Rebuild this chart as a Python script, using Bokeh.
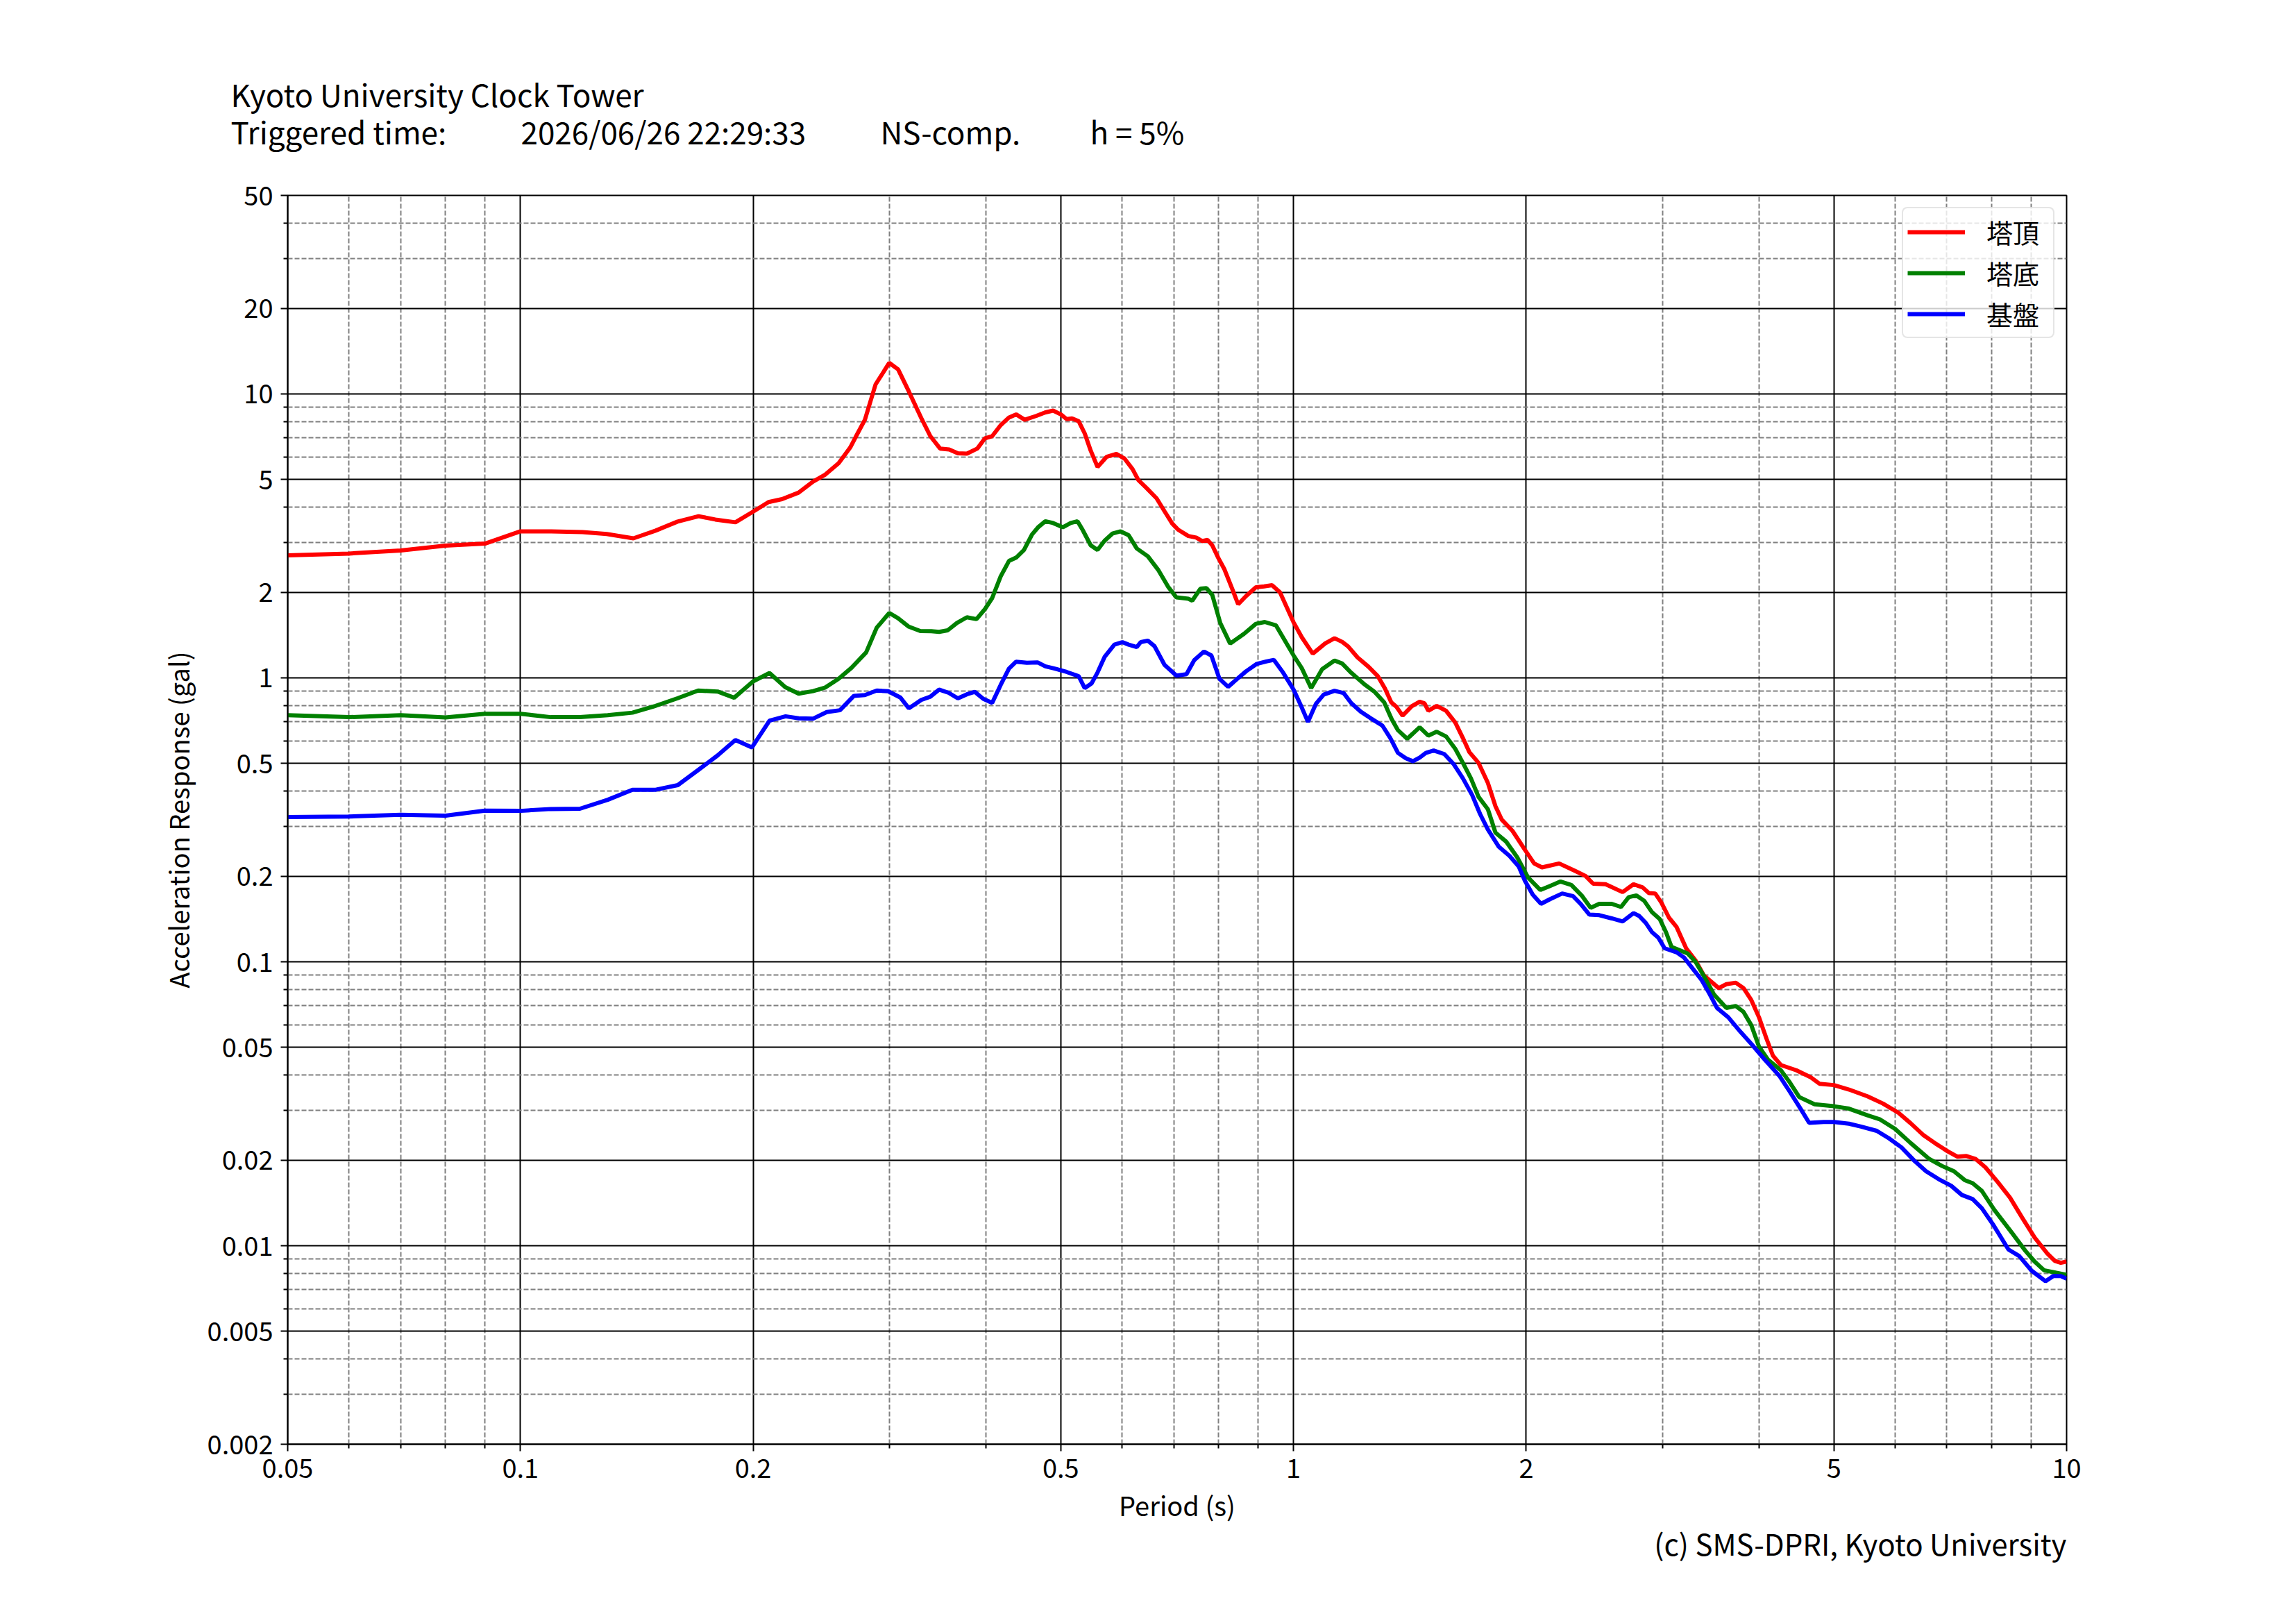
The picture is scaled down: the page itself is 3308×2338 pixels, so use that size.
from bokeh.plotting import figure
from bokeh.layouts import column
from bokeh.models import FixedTicker, CustomJSTickFormatter, Legend, LegendItem, Title
from bokeh.core.properties import value
from bokeh.embed import file_html
from bokeh.resources import INLINE

FONT = "Noto Sans CJK JP"

# ---- tick positions / labels ----
x_major = [0.05, 0.1, 0.2, 0.5, 1, 2, 5, 10]
x_minor = [0.06, 0.07, 0.08, 0.09, 0.3, 0.4, 0.6, 0.7, 0.8, 0.9, 3, 4, 6, 7, 8, 9]
y_major = [0.002, 0.005, 0.01, 0.02, 0.05, 0.1, 0.2, 0.5, 1, 2, 5, 10, 20, 50]
y_minor = [0.003, 0.004, 0.006, 0.007, 0.008, 0.009, 0.03, 0.04, 0.06, 0.07, 0.08, 0.09,
           0.3, 0.4, 0.6, 0.7, 0.8, 0.9, 3, 4, 6, 7, 8, 9, 30, 40]

series_labels = ["塔頂", "塔底", "基盤"]

# ---- 塔頂 (tower top) ----
period_top = [0.05, 0.06, 0.07, 0.08, 0.09, 0.10, 0.1096, 0.1203, 0.1293, 0.140, 0.1496, 0.1597,
              0.170, 0.1787, 0.1897, 0.200, 0.2094, 0.218, 0.229, 0.239, 0.248, 0.258, 0.267,
              0.2715, 0.279, 0.288, 0.300, 0.308, 0.318, 0.330, 0.339, 0.349, 0.3586, 0.368,
              0.378, 0.390, 0.399, 0.4076, 0.418, 0.4285, 0.4377, 0.449, 0.4645, 0.477, 0.4887,
              0.500, 0.5088, 0.517, 0.5274, 0.537, 0.5466, 0.5578, 0.573, 0.590, 0.6044, 0.6192,
              0.630, 0.6456, 0.665, 0.681, 0.697, 0.7097, 0.731, 0.7483, 0.762, 0.774, 0.785,
              0.799, 0.8135, 0.833, 0.848, 0.868, 0.894, 0.916, 0.938, 0.9605, 1.0, 1.025, 1.059,
              1.099, 1.13, 1.156, 1.177, 1.21, 1.25, 1.285, 1.313, 1.338, 1.359, 1.384, 1.422,
              1.456, 1.477, 1.494, 1.532, 1.575, 1.619, 1.656, 1.688, 1.735, 1.784, 1.825, 1.859,
              1.92, 1.992, 2.048, 2.096, 2.206, 2.31, 2.386, 2.441, 2.533, 2.665, 2.753, 2.829,
              2.882, 2.937, 2.99, 3.06, 3.13, 3.22, 3.31, 3.394, 3.548, 3.63, 3.733, 3.82, 3.91,
              4.0, 4.09, 4.17, 4.27, 4.47, 4.66, 4.79, 5.0, 5.23, 5.525, 5.785, 6.06, 6.285, 6.52,
              6.77, 7.02, 7.22, 7.42, 7.63, 7.85, 8.14, 8.45, 8.76, 9.09, 9.44, 9.655, 9.83, 10.0]
accel_top = [2.70, 2.74, 2.81, 2.92, 2.97, 3.28, 3.28, 3.26, 3.21, 3.10, 3.30, 3.55,
             3.71, 3.61, 3.53, 3.85, 4.16, 4.26, 4.49, 4.91, 5.20, 5.70, 6.47,
             7.06, 8.11, 10.8, 12.86, 12.2, 10.2, 8.22, 7.10, 6.42, 6.37, 6.18,
             6.16, 6.42, 6.98, 7.10, 7.76, 8.26, 8.47, 8.11, 8.36, 8.60, 8.73,
             8.47, 8.15, 8.20, 8.01, 7.25, 6.31, 5.53, 6.00, 6.15, 5.92, 5.43,
             4.97, 4.66, 4.29, 3.86, 3.49, 3.32, 3.16, 3.12, 3.03, 3.06, 2.93,
             2.65, 2.42, 2.06, 1.816, 1.94, 2.085, 2.10, 2.12, 2.00, 1.57, 1.39, 1.217,
             1.322, 1.379, 1.339, 1.289, 1.18, 1.095, 1.015, 0.918, 0.82, 0.79, 0.736, 0.794,
             0.824, 0.814, 0.766, 0.797, 0.766, 0.696, 0.614, 0.548, 0.502, 0.4266, 0.353, 0.317,
             0.289, 0.248, 0.222, 0.215, 0.222, 0.2094, 0.2006, 0.1884, 0.1876, 0.176, 0.1876, 0.1828,
             0.1747, 0.174, 0.162, 0.143, 0.1326, 0.1116, 0.1013, 0.0896, 0.0808, 0.0834, 0.0844, 0.0808, 0.0733,
             0.0638, 0.0537, 0.0467, 0.0433, 0.0415, 0.0393, 0.0372, 0.0368, 0.0355, 0.0336, 0.0317, 0.0294, 0.027, 0.0246,
             0.0229, 0.0215, 0.0206, 0.0207, 0.0202, 0.0189, 0.0168, 0.01476, 0.01256, 0.0107, 0.0094, 0.00885, 0.00871, 0.0088]

# ---- 塔底 (tower base) ----
period_base = [0.05, 0.06, 0.07, 0.08, 0.09, 0.10, 0.1095, 0.1194, 0.1297, 0.1396, 0.1496, 0.1598,
               0.1698, 0.1799, 0.189, 0.200, 0.210, 0.220, 0.229, 0.239, 0.248, 0.258, 0.268,
               0.280, 0.289, 0.300, 0.308, 0.318, 0.329, 0.340, 0.348, 0.357, 0.367, 0.378, 0.389,
               0.399, 0.4076, 0.418, 0.4285, 0.4377, 0.448, 0.459, 0.4678, 0.4775, 0.4887, 0.5029,
               0.515, 0.5256, 0.5336, 0.5466, 0.5578, 0.5696, 0.583, 0.5975, 0.612, 0.627, 0.648,
               0.669, 0.689, 0.7055, 0.731, 0.7397, 0.7577, 0.7716, 0.785, 0.804, 0.828, 0.863,
               0.894, 0.918, 0.9492, 1.0, 1.025, 1.054, 1.089, 1.13, 1.156, 1.188, 1.233, 1.274,
               1.31, 1.34, 1.365, 1.403, 1.456, 1.494, 1.532, 1.575, 1.619, 1.656, 1.696, 1.735,
               1.784, 1.825, 1.885, 1.947, 2.011, 2.086, 2.145, 2.215, 2.288, 2.363, 2.423, 2.486,
               2.58, 2.652, 2.714, 2.777, 2.842, 2.909, 2.977, 3.033, 3.083, 3.146, 3.234, 3.31,
               3.388, 3.5, 3.63, 3.733, 3.82, 3.91, 4.0, 4.11, 4.27, 4.385, 4.51, 4.72, 5.0, 5.23,
               5.525, 5.73, 6.0, 6.285, 6.645, 6.9, 7.15, 7.39, 7.56, 7.77, 8.06, 8.52, 8.845,
               9.09, 9.35, 9.7, 10.0]
accel_base = [0.739, 0.727, 0.739, 0.725, 0.747, 0.747, 0.727, 0.727, 0.739, 0.754, 0.797, 0.848,
              0.902, 0.895, 0.851, 0.972, 1.04, 0.928, 0.88, 0.898, 0.925, 0.993, 1.084,
              1.229, 1.503, 1.692, 1.621, 1.514, 1.462, 1.459, 1.452, 1.47, 1.561, 1.634, 1.61,
              1.748, 1.91, 2.276, 2.58, 2.65, 2.82, 3.20, 3.40, 3.56, 3.51, 3.39,
              3.51, 3.56, 3.32, 2.93, 2.82, 3.04, 3.22, 3.28, 3.18, 2.855, 2.68,
              2.39, 2.085, 1.92, 1.90, 1.87, 2.06, 2.07, 1.96, 1.56, 1.32, 1.43,
              1.55, 1.573, 1.53, 1.20, 1.081, 0.92, 1.073, 1.151, 1.123, 1.041, 0.953, 0.891,
              0.82, 0.714, 0.654, 0.61, 0.67, 0.626, 0.646, 0.622, 0.5624, 0.502, 0.443, 0.381,
              0.3445, 0.285, 0.2646, 0.2333, 0.198, 0.179, 0.1847, 0.1918, 0.1865, 0.1703, 0.1549, 0.160,
              0.160, 0.156, 0.169, 0.1713, 0.164, 0.1495, 0.1414, 0.127, 0.1128, 0.1104, 0.107, 0.1002,
              0.090, 0.0766, 0.0688, 0.0699, 0.0666, 0.0598, 0.0503, 0.0452, 0.0415, 0.0376, 0.0334, 0.0315, 0.031, 0.0304,
              0.0288, 0.0279, 0.0258, 0.023, 0.0202, 0.0191, 0.0183, 0.017, 0.0166, 0.0156, 0.0134, 0.0110, 0.0096,
              0.0088, 0.0082, 0.00803, 0.0079]

# ---- 基盤 (ground) ----
period_ground = [0.05, 0.06, 0.07, 0.08, 0.09, 0.10, 0.1095, 0.1194, 0.1297, 0.1396, 0.1496, 0.1598,
                 0.1698, 0.1799, 0.1897, 0.1993, 0.210, 0.2203, 0.229, 0.239, 0.249, 0.259, 0.270,
                 0.279, 0.289, 0.299, 0.310, 0.318, 0.330, 0.339, 0.348, 0.358, 0.368, 0.378, 0.387,
                 0.397, 0.4076, 0.418, 0.4285, 0.4377, 0.452, 0.4665, 0.4775, 0.492, 0.5088, 0.5274,
                 0.537, 0.548, 0.5578, 0.5696, 0.5865, 0.6006, 0.612, 0.627, 0.6344, 0.648, 0.661,
                 0.681, 0.7055, 0.727, 0.744, 0.766, 0.783, 0.802, 0.823, 0.845, 0.868, 0.8965,
                 0.922, 0.943, 0.97, 1.0, 1.02, 1.044, 1.069, 1.094, 1.13, 1.161, 1.188, 1.222,
                 1.256, 1.303, 1.334, 1.365, 1.397, 1.427, 1.456, 1.483, 1.518, 1.567, 1.612, 1.656,
                 1.703, 1.743, 1.784, 1.842, 1.903, 1.956, 1.992, 2.039, 2.09, 2.145, 2.226, 2.299,
                 2.352, 2.414, 2.486, 2.58, 2.665, 2.753, 2.80, 2.856, 2.91, 2.964, 3.02, 3.13, 3.2,
                 3.28, 3.373, 3.45, 3.53, 3.65, 3.785, 3.91, 4.07, 4.25, 4.385, 4.53, 4.645, 4.85,
                 5.0, 5.23, 5.42, 5.68, 5.89, 6.115, 6.345, 6.58, 6.83, 7.09, 7.32, 7.56, 7.77, 8.03,
                 8.41, 8.684, 9.01, 9.39, 9.61, 9.83, 10.0]
accel_ground = [0.3235, 0.325, 0.3296, 0.327, 0.3408, 0.340, 0.3453, 0.346, 0.372, 0.4036, 0.4036, 0.419,
                0.4736, 0.533, 0.6044, 0.569, 0.7065, 0.732, 0.72, 0.718, 0.758, 0.769, 0.864,
                0.87, 0.902, 0.897, 0.853, 0.781, 0.836, 0.858, 0.909, 0.886, 0.847, 0.875, 0.893,
                0.843, 0.816, 0.944, 1.078, 1.14, 1.13, 1.134, 1.098, 1.076, 1.049, 1.013,
                0.92, 0.956, 1.044, 1.184, 1.309, 1.336, 1.309, 1.283, 1.336, 1.352, 1.293,
                1.111, 1.018, 1.03, 1.154, 1.238, 1.199, 0.993, 0.93, 0.99, 1.054, 1.12,
                1.142, 1.157, 1.041, 0.91, 0.81, 0.70, 0.81, 0.873, 0.90, 0.884, 0.814, 0.76,
                0.723, 0.679, 0.614, 0.544, 0.521, 0.5085, 0.524, 0.544, 0.555, 0.539, 0.496, 0.443,
                0.386, 0.3317, 0.2925, 0.2547, 0.236, 0.2164, 0.193, 0.1725, 0.160, 0.166, 0.174, 0.1703,
                0.160, 0.1466, 0.146, 0.1422, 0.1387, 0.1484, 0.145, 0.137, 0.127, 0.1216, 0.1116, 0.108, 0.1035,
                0.095, 0.0862, 0.0774, 0.0688, 0.0638, 0.0567, 0.0514, 0.0452, 0.0397, 0.0349, 0.0303, 0.0271, 0.0273,
                0.0273, 0.0269, 0.0263, 0.0254, 0.0239, 0.0222, 0.020, 0.0183, 0.01717, 0.01627, 0.0151, 0.0146, 0.01355, 0.0119,
                0.0097, 0.0092, 0.00817, 0.0075, 0.00782, 0.00782, 0.00766]

title_line1 = "Kyoto University Clock Tower"
title_line2 = ["Triggered time:", "2026/06/26 22:29:33", "NS-comp.", "h = 5%"]
footer_text = "(c) SMS-DPRI, Kyoto University"

W = 3290
HEAD_H = 230
BL, BT, FW, FH, BB = 414, 51, 2563, 1799, 220
BR = W - BL - FW


def no_align(fig):
    try:
        fig.frame_align = False
    except Exception:
        pass


# ---------------- header (title texts) ----------------
head = figure(width=W, height=HEAD_H, x_range=(0, W), y_range=(0, HEAD_H),
              x_axis_type=None, y_axis_type=None, toolbar_location=None,
              output_backend="svg", min_border=0)
no_align(head)
head.outline_line_color = None
head.background_fill_color = "white"
head.border_fill_color = "white"
head.grid.visible = False
head.text(x=[332], y=[HEAD_H - 134], text=[title_line1],
          text_font=value(FONT), text_font_size=value("44px"), text_color="black",
          text_align="left", text_baseline="alphabetic")
head.text(x=[332, 750, 1268, 1570], y=[HEAD_H - 188] * 4, text=title_line2,
          text_font=value(FONT), text_font_size=value("44px"), text_color="black",
          text_align="left", text_baseline="alphabetic")

# ---------------- main plot ----------------
p = figure(width=W, height=BT + FH + BB, x_axis_type="log", y_axis_type="log",
           x_range=(0.05, 10), y_range=(0.002, 50),
           output_backend="svg", toolbar_location=None,
           min_border_left=BL, min_border_right=BR, min_border_top=BT, min_border_bottom=BB)
no_align(p)
p.background_fill_color = "white"
p.border_fill_color = "white"
p.outline_line_color = "black"
p.outline_line_width = 2
p.outline_line_alpha = 1

p.xaxis.ticker = FixedTicker(ticks=x_major, minor_ticks=x_minor)
p.yaxis.ticker = FixedTicker(ticks=y_major, minor_ticks=y_minor)
fmt = "return tick.toString();"
p.xaxis.formatter = CustomJSTickFormatter(code=fmt)
p.yaxis.formatter = CustomJSTickFormatter(code=fmt)

for ax in (p.xaxis, p.yaxis):
    ax.axis_line_color = "black"
    ax.axis_line_width = 2
    ax.major_tick_line_color = "black"
    ax.major_tick_line_width = 2
    ax.minor_tick_line_color = "black"
    ax.minor_tick_line_width = 2
    ax.major_tick_in = 0
    ax.major_tick_out = 10
    ax.minor_tick_in = 0
    ax.minor_tick_out = 6
    ax.major_label_text_font = FONT
    ax.major_label_text_font_size = "38px"
    ax.major_label_text_color = "black"
    ax.axis_label_text_font = FONT
    ax.axis_label_text_font_size = "38px"
    ax.axis_label_text_font_style = "normal"
    ax.axis_label_text_color = "black"

p.xaxis.axis_label = "Period (s)"
p.yaxis.axis_label = "Acceleration Response (gal)"
p.xaxis.major_label_standoff = 10
p.yaxis.major_label_standoff = 11
p.xaxis.axis_label_standoff = 8
p.yaxis.axis_label_standoff = 12

for g in (p.xgrid, p.ygrid):
    g.grid_line_color = "black"
    g.grid_line_width = 2
    g.grid_line_alpha = 1
    g.minor_grid_line_color = "#808080"
    g.minor_grid_line_width = 2
    g.minor_grid_line_dash = "7 3"

r_top = p.line(period_top, accel_top, line_color="#ff0000", line_width=6)
r_base = p.line(period_base, accel_base, line_color="#008000", line_width=6)
r_ground = p.line(period_ground, accel_ground, line_color="#0000ff", line_width=6)

legend = Legend(items=[LegendItem(label=series_labels[0], renderers=[r_top]),
                       LegendItem(label=series_labels[1], renderers=[r_base]),
                       LegendItem(label=series_labels[2], renderers=[r_ground])],
                location="top_right")
legend.label_text_font = FONT
legend.label_text_font_size = "38px"
legend.label_text_color = "black"
legend.glyph_width = 83
legend.glyph_height = 50
legend.spacing = 4
legend.padding = 6
legend.label_standoff = 31
legend.label_width = 90
legend.margin = 17
legend.border_line_color = "#cccccc"
legend.border_line_width = 2
legend.background_fill_color = "white"
legend.background_fill_alpha = 0.8
try:
    legend.border_radius = 8
except Exception:
    pass
p.add_layout(legend)

foot = Title(text=footer_text, align="right", vertical_align="top", text_font=FONT,
             text_font_size="42px", text_font_style="normal", text_color="black", standoff=-12)
p.add_layout(foot, "below")

layout = column(head, p)
open("out.html", "w").write(file_html(layout, INLINE))
